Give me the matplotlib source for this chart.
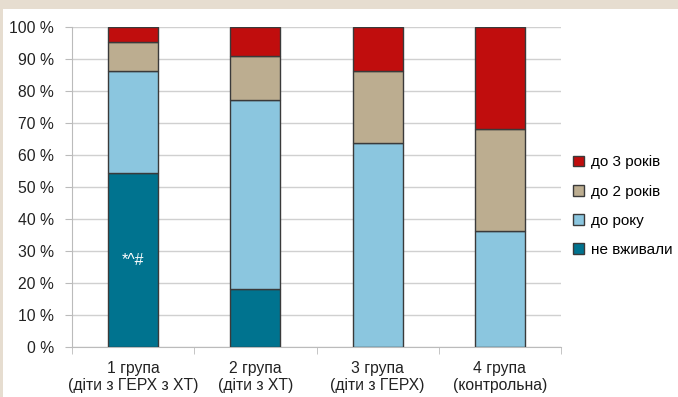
import numpy as np
import matplotlib.pyplot as plt
from matplotlib.patches import Rectangle

plt.rcParams['font.family'] = ['Liberation Sans', 'DejaVu Sans']

# групи дітей та частки (%) за тривалістю вживання
groups = ['1 група\n(діти з ГЕРХ з ХТ)', '2 група\n(діти з ХТ)',
          '3 група\n(діти з ГЕРХ)', '4 група\n(контрольна)']
ne_vzhyvaly = [54.5, 18.2, 0.0, 0.0]
do_roku = [31.8, 59.1, 63.6, 36.4]
do_2_rokiv = [9.1, 13.6, 22.8, 31.8]
do_3_rokiv = [4.6, 9.1, 13.6, 31.8]

series = [('не вживали', ne_vzhyvaly, '#00738f'),
          ('до року', do_roku, '#8bc6df'),
          ('до 2 років', do_2_rokiv, '#bcad90'),
          ('до 3 років', do_3_rokiv, '#c00d0d')]

FS = 11.3

fig = plt.figure(figsize=(6.78, 3.97), dpi=100, facecolor='white')
# бежева рамка зверху та зліва
fig.patches.append(Rectangle((0, 1 - 9 / 397), 1, 9 / 397, transform=fig.transFigure,
                             facecolor='#e6ddd0', edgecolor='none', zorder=-5))
fig.patches.append(Rectangle((0, 0), 3 / 678, 1, transform=fig.transFigure,
                             facecolor='#e6ddd0', edgecolor='none', zorder=-5))
ax = fig.add_axes([72 / 678, 50 / 397, 489 / 678, 320 / 397])
ax.set_facecolor('none')

x = np.arange(len(groups))
bottom = np.zeros(len(groups))
handles = []
for name, vals, color in series:
    vals = np.array(vals)
    b = ax.bar(x, vals, width=0.41, bottom=bottom, color=color,
               edgecolor='#3a3a3a', linewidth=1.0, label=name, zorder=3)
    handles.append(b)
    bottom += vals

ax.text(x[0], 27, '*^#', color='white', ha='center', va='center', fontsize=FS, zorder=4)

ax.set_xlim(-0.5, len(groups) - 0.5)
ax.set_ylim(0, 100)
ax.set_yticks(np.arange(0, 101, 10))
ax.set_yticklabels([f'{v} %' for v in range(0, 101, 10)], fontsize=FS, color='#222222')
ax.set_xticks(x)
ax.set_xticklabels(groups, fontsize=FS, color='#222222', linespacing=1.2)
ax.set_xticks(np.arange(-0.5, len(groups)), minor=True)
ax.tick_params(axis='x', which='major', length=0, pad=10)
ax.tick_params(axis='x', which='minor', length=5, color='#bbbbbb')
ax.tick_params(axis='y', length=5, color='#bbbbbb', pad=8)

ax.yaxis.grid(True, color='#d0d0d0', linewidth=1.0, zorder=0)
for side in ['top', 'right']:
    ax.spines[side].set_visible(False)
ax.spines['left'].set_color('#bbbbbb')
ax.spines['bottom'].set_color('#bbbbbb')

ax.legend(handles[::-1], [s[0] for s in series][::-1], loc='center left',
          bbox_to_anchor=(1.0, 0.44), frameon=False, fontsize=11,
          handlelength=0.7, handleheight=0.7, handletextpad=0.45, labelspacing=1.0,
          borderaxespad=0.4)

fig.savefig('out.png', dpi=100, facecolor=fig.get_facecolor())
